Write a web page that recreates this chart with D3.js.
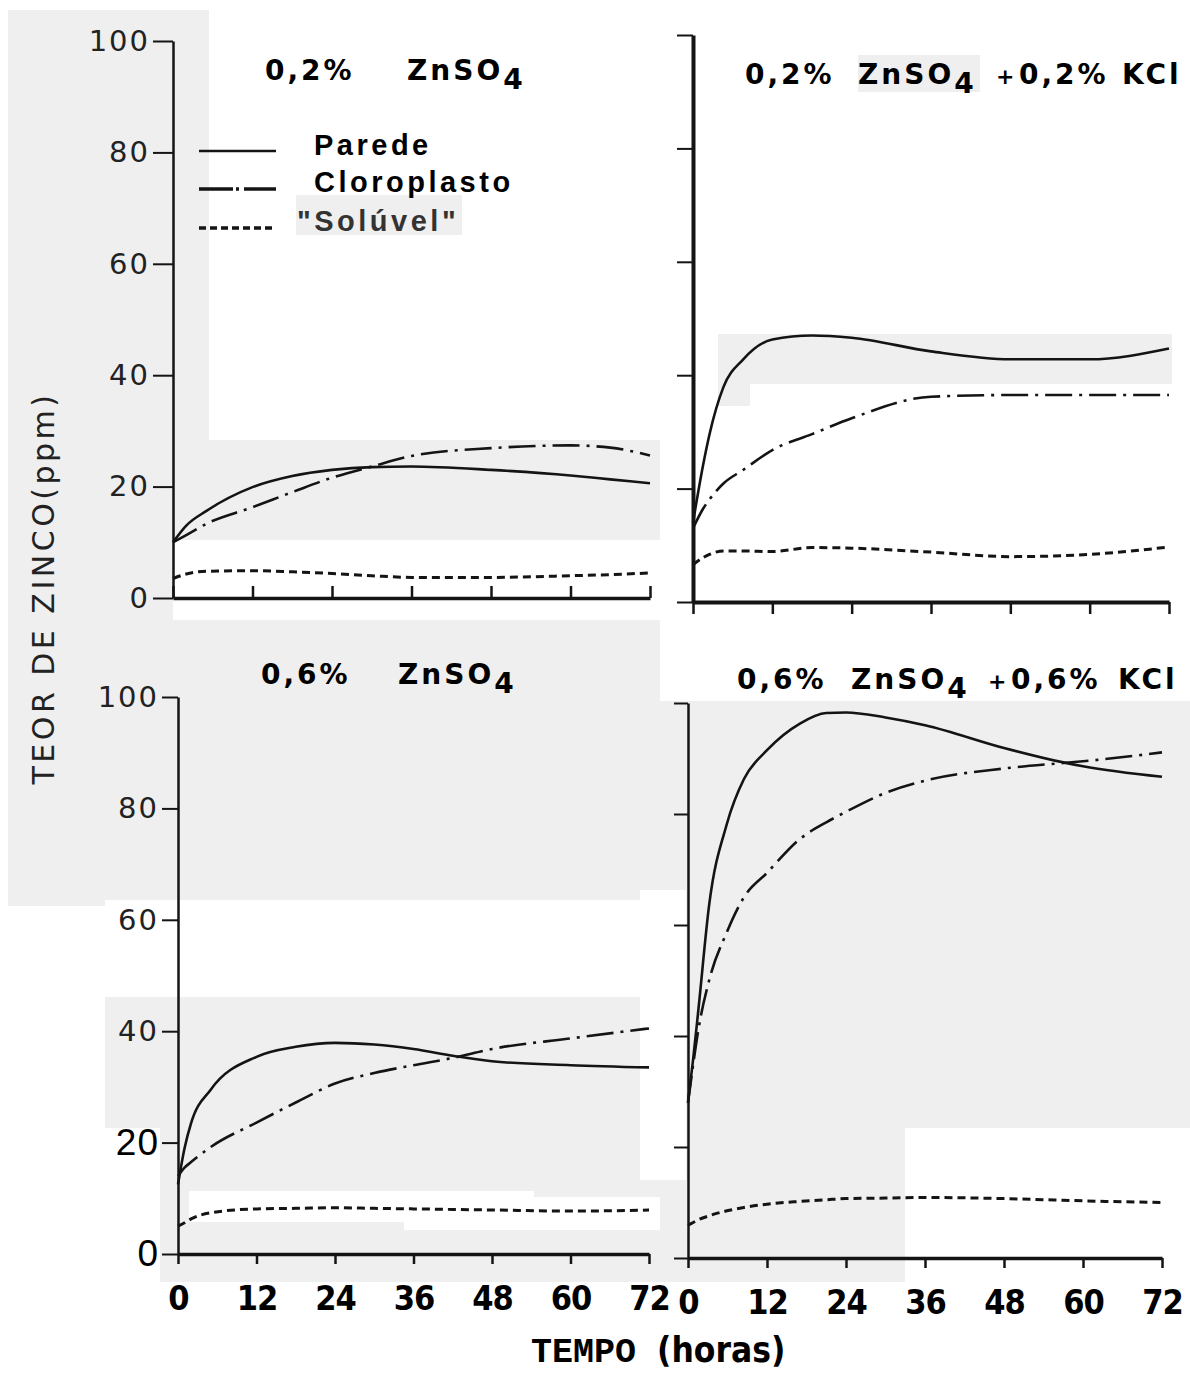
<!DOCTYPE html>
<html>
<head>
<meta charset="utf-8">
<script src="https://cdn.jsdelivr.net/npm/d3@7"></script>
<style>
  body { margin: 0; background: #fff; }
  svg { display: block; }
</style>
</head>
<body>
<script>
// ---- data ----
var hourTicks = [0, 12, 24, 36, 48, 60, 72];
var ppmTicks = [0, 20, 40, 60, 80, 100];
var seriesNames = ["Parede", "Cloroplasto", "\"Solúvel\""];

// 0,2% ZnSO4
var timeA = [0, 2, 5, 12, 18, 24, 30, 36, 48, 60, 66, 72];
var paredeA = [10, 13, 15.6, 19.9, 21.9, 23, 23.5, 23.6, 23, 22, 21.3, 20.6];
var cloroA = [10, 11.3, 13.3, 16.3, 19, 21.6, 23.6, 25.5, 26.9, 27.4, 27, 25.6];
var soluvelA = [3.5, 4.3, 4.8, 4.9, 4.7, 4.4, 4, 3.7, 3.7, 4, 4.2, 4.5];

// 0,2% ZnSO4 + 0,2% KCl
var timeB = [0, 1.5, 2.5, 4.6, 7.6, 12, 18, 24, 36, 48, 60, 72];
var paredeB = [14, 24, 29.6, 37.9, 42.8, 46.3, 47, 46.6, 44.2, 42.8, 42.8, 44.7];
var cloroB = [13, 16.4, 18.1, 20.9, 23.3, 26.8, 29.6, 32.4, 36.2, 36.5, 36.5, 36.5];
var soluvelB = [6.6, 7.8, 8.4, 9, 9, 8.9, 9.6, 9.5, 8.8, 8, 8.4, 9.7];

// 0,6% ZnSO4
var timeC = [0, 1, 2, 5, 12, 18, 24, 30, 36, 42, 48, 60, 72];
var paredeC = [12.5, 19, 23.5, 29.5, 35.4, 37.2, 37.9, 37.6, 36.8, 35.6, 34.6, 33.9, 33.5];
var cloroC = [14, 15.5, 16.5, 19.2, 23.6, 27.2, 30.6, 32.5, 33.9, 35.2, 36.8, 38.7, 40.5];
var soluvelC = [5, 5.6, 6.3, 7.4, 8.1, 8.2, 8.3, 8.2, 8.1, 8, 7.9, 7.7, 7.9];

// 0,6% ZnSO4 + 0,6% KCl
var timeD = [0, 0.8, 1.6, 3.2, 5.9, 8.5, 12, 17, 21, 24, 30, 36, 48, 57, 60, 72];
var paredeD = [28, 36, 45, 63.5, 78.2, 86.3, 91.5, 96.3, 98.2, 98.3, 97.4, 96, 91.9, 89.3, 88.6, 86.7];
var cloroD = [28, 35, 41.3, 50, 58.7, 65, 69.4, 75.5, 78.5, 80.4, 83.8, 86, 88.2, 89.2, 89.5, 91.1];
var soluvelD = [5.9, 6.4, 6.9, 7.6, 8.5, 9.1, 9.7, 10.2, 10.5, 10.7, 10.8, 10.9, 10.7, 10.4, 10.3, 10];

//Width and height
var w = 1190;
var h = 1377;
var ink = "#141414";
var paper = "#efefef";

var svg = d3.select("body")
            .append("svg")
            .attr("width", w)
            .attr("height", h);

// grey patches of the scanned paper
var patches = [
  [8, 10, 201, 430], [8, 436, 165, 470], [173, 440, 487, 100],
  [296, 195, 166, 40], [15, 620, 645, 280],
  [105, 997, 555, 131], [160, 1128, 500, 155],
  [718, 334, 454, 50], [718, 384, 32, 22], [858, 55, 122, 37],
  [640, 701, 550, 581]
];
var whites = [
  [195, 540, 465, 62], [105, 900, 541, 97],
  [189, 1191, 345, 31], [404, 1197, 256, 33],
  [640, 890, 46, 290], [905, 1128, 285, 154], [0, 1282, 1190, 95]
];
svg.selectAll("rect.paper").data(patches).enter().append("rect")
   .attr("x", function(d) { return d[0]; }).attr("y", function(d) { return d[1]; })
   .attr("width", function(d) { return d[2]; }).attr("height", function(d) { return d[3]; })
   .attr("fill", paper);
svg.selectAll("rect.white").data(whites).enter().append("rect")
   .attr("x", function(d) { return d[0]; }).attr("y", function(d) { return d[1]; })
   .attr("width", function(d) { return d[2]; }).attr("height", function(d) { return d[3]; })
   .attr("fill", "#fff");

var panels = [
  { time: timeA, vals: [paredeA, cloroA, soluvelA], x0: 173, x1: 650, y0: 598, y1: 41,
    xTick: -12, yTick: 20, xLabels: false, yLabels: true, axisW: 2.5, xAxisW: 3.5,
    title: [["0,2%", 265], ["ZnSO", 407, true]], titleY: 80 },
  { time: timeB, vals: [paredeB, cloroB, soluvelB], x0: 693, x1: 1169, y0: 602, y1: 35,
    xTick: 12, yTick: 16, xLabels: false, yLabels: false, axisW: 4, xAxisW: 4,
    title: [["0,2%", 745], ["ZnSO", 858, true], ["+", 996, false, 22], ["0,2%", 1019], ["KCl", 1122]], titleY: 84 },
  { time: timeC, vals: [paredeC, cloroC, soluvelC], x0: 178, x1: 649, y0: 1254, y1: 697,
    xTick: 10, yTick: 16, xLabels: true, yLabels: true, axisW: 2.5, xAxisW: 3.5,
    title: [["0,6%", 261], ["ZnSO", 398, true]], titleY: 684 },
  { time: timeD, vals: [paredeD, cloroD, soluvelD], x0: 688, x1: 1162, y0: 1258, y1: 703,
    xTick: 10, yTick: 14, xLabels: true, yLabels: false, axisW: 2.5, xAxisW: 3.5,
    title: [["0,6%", 737], ["ZnSO", 851, true], ["+", 988, false, 22], ["0,6%", 1011], ["KCl", 1118]], titleY: 689 }
];

var dashes = [null, "27 7 3 7", "8 5"];

panels.forEach(function(p, pi) {
  var x = d3.scaleLinear().domain([0, 72]).range([p.x0, p.x1]);
  var y = d3.scaleLinear().domain([0, 100]).range([p.y0, p.y1]);

  var gx = svg.append("g")
      .attr("transform", "translate(0," + p.y0 + ")")
      .call(d3.axisBottom(x).tickValues(hourTicks).tickSize(p.xTick).tickSizeOuter(0)
            .tickPadding(22).tickFormat(p.xLabels ? d3.format("d") : ""));
  gx.select(".domain").attr("stroke", ink).attr("stroke-width", p.xAxisW);
  gx.selectAll(".tick line").attr("stroke", ink).attr("stroke-width", 2.5);
  gx.selectAll(".tick text")
    .attr("fill", "#000")
    .style("font-family", "'DejaVu Sans Condensed', 'DejaVu Sans', sans-serif")
    .style("font-stretch", "condensed")
    .style("font-weight", "bold")
    .style("font-size", "34px")
    .style("letter-spacing", "-1px");

  var gy = svg.append("g")
      .attr("transform", "translate(" + p.x0 + ",0)")
      .call(d3.axisLeft(y).tickValues(ppmTicks).tickSize(p.yTick).tickSizeOuter(0)
            .tickPadding(3).tickFormat(p.yLabels ? d3.format("d") : ""));
  gy.select(".domain").attr("stroke", ink).attr("stroke-width", p.axisW);
  gy.selectAll(".tick line").attr("stroke", ink).attr("stroke-width", 2);
  gy.selectAll(".tick text")
    .attr("fill", "#222")
    .style("font-family", "'DejaVu Sans', sans-serif")
    .style("font-size", "29px")
    .style("letter-spacing", "2px");
  if (pi == 2) {
    // the "20" and "0" of this panel were pasted in another type
    gy.selectAll(".tick text").filter(function(d) { return d <= 20; })
      .attr("fill", "#000")
      .style("font-family", "'Liberation Sans', Arial, sans-serif")
      .style("font-size", "37px")
      .style("letter-spacing", "1px");
  }

  // curves
  p.vals.forEach(function(vals, si) {
    var pts = p.time.map(function(t, i) { return [t, vals[i]]; });
    var line = d3.line()
      .x(function(d) { return x(d[0]); })
      .y(function(d) { return y(d[1]); })
      .curve(d3.curveMonotoneX);
    svg.append("path")
       .attr("d", line(pts))
       .attr("fill", "none")
       .attr("stroke", ink)
       .attr("stroke-width", si == 2 ? 3 : 2.6)
       .attr("stroke-dasharray", dashes[si]);
  });

  // panel title
  p.title.forEach(function(tok) {
    var t = svg.append("text")
       .attr("x", tok[1])
       .attr("y", p.titleY)
       .attr("fill", "#000")
       .style("font-family", "'DejaVu Sans', sans-serif")
       .style("font-weight", "bold")
       .style("font-size", (tok[3] || 28) + "px")
       .style("letter-spacing", "3px")
       .text(tok[0]);
    if (tok[2]) t.append("tspan").attr("dy", 9).text("4");
  });
});

// legend
var legendY = [151, 189, 228];
var legendTextY = [155, 192, 231];
var legendTextX = [314, 314, 297];
seriesNames.forEach(function(name, i) {
  svg.append("line")
     .attr("x1", 199).attr("x2", 276)
     .attr("y1", legendY[i]).attr("y2", legendY[i])
     .attr("stroke", ink)
     .attr("stroke-width", i == 0 ? 2.5 : 3.5)
     .attr("stroke-dasharray", i == 1 ? "34 3 3 5" : (i == 2 ? "7 4" : null));
  svg.append("text")
     .attr("x", legendTextX[i]).attr("y", legendTextY[i])
     .attr("fill", i == 2 ? "#333" : "#000")
     .style("font-family", "'Liberation Sans', Arial, sans-serif")
     .style("font-weight", "bold")
     .style("font-size", "29px")
     .style("letter-spacing", "3.5px")
     .text(name);
});

// axis titles
svg.append("text")
   .attr("transform", "translate(54,588) rotate(-90)")
   .attr("text-anchor", "middle")
   .attr("fill", "#222")
   .style("font-family", "'DejaVu Sans', sans-serif")
   .style("font-size", "30px")
   .style("letter-spacing", "3.5px")
   .text("TEOR DE ZINCO(ppm)");

var xt = svg.append("text")
   .attr("x", 531).attr("y", 1362)
   .attr("fill", "#000");
xt.append("tspan")
  .style("font-family", "'Liberation Mono', 'DejaVu Sans Mono', monospace")
  .style("font-weight", "bold")
  .style("font-size", "35px")
  .text("TEMPO ");
xt.append("tspan")
  .style("font-family", "'DejaVu Sans Condensed', 'DejaVu Sans', sans-serif")
  .style("font-stretch", "condensed")
  .style("font-weight", "bold")
  .style("font-size", "35px")
  .text("(horas)");
</script>
</body>
</html>
